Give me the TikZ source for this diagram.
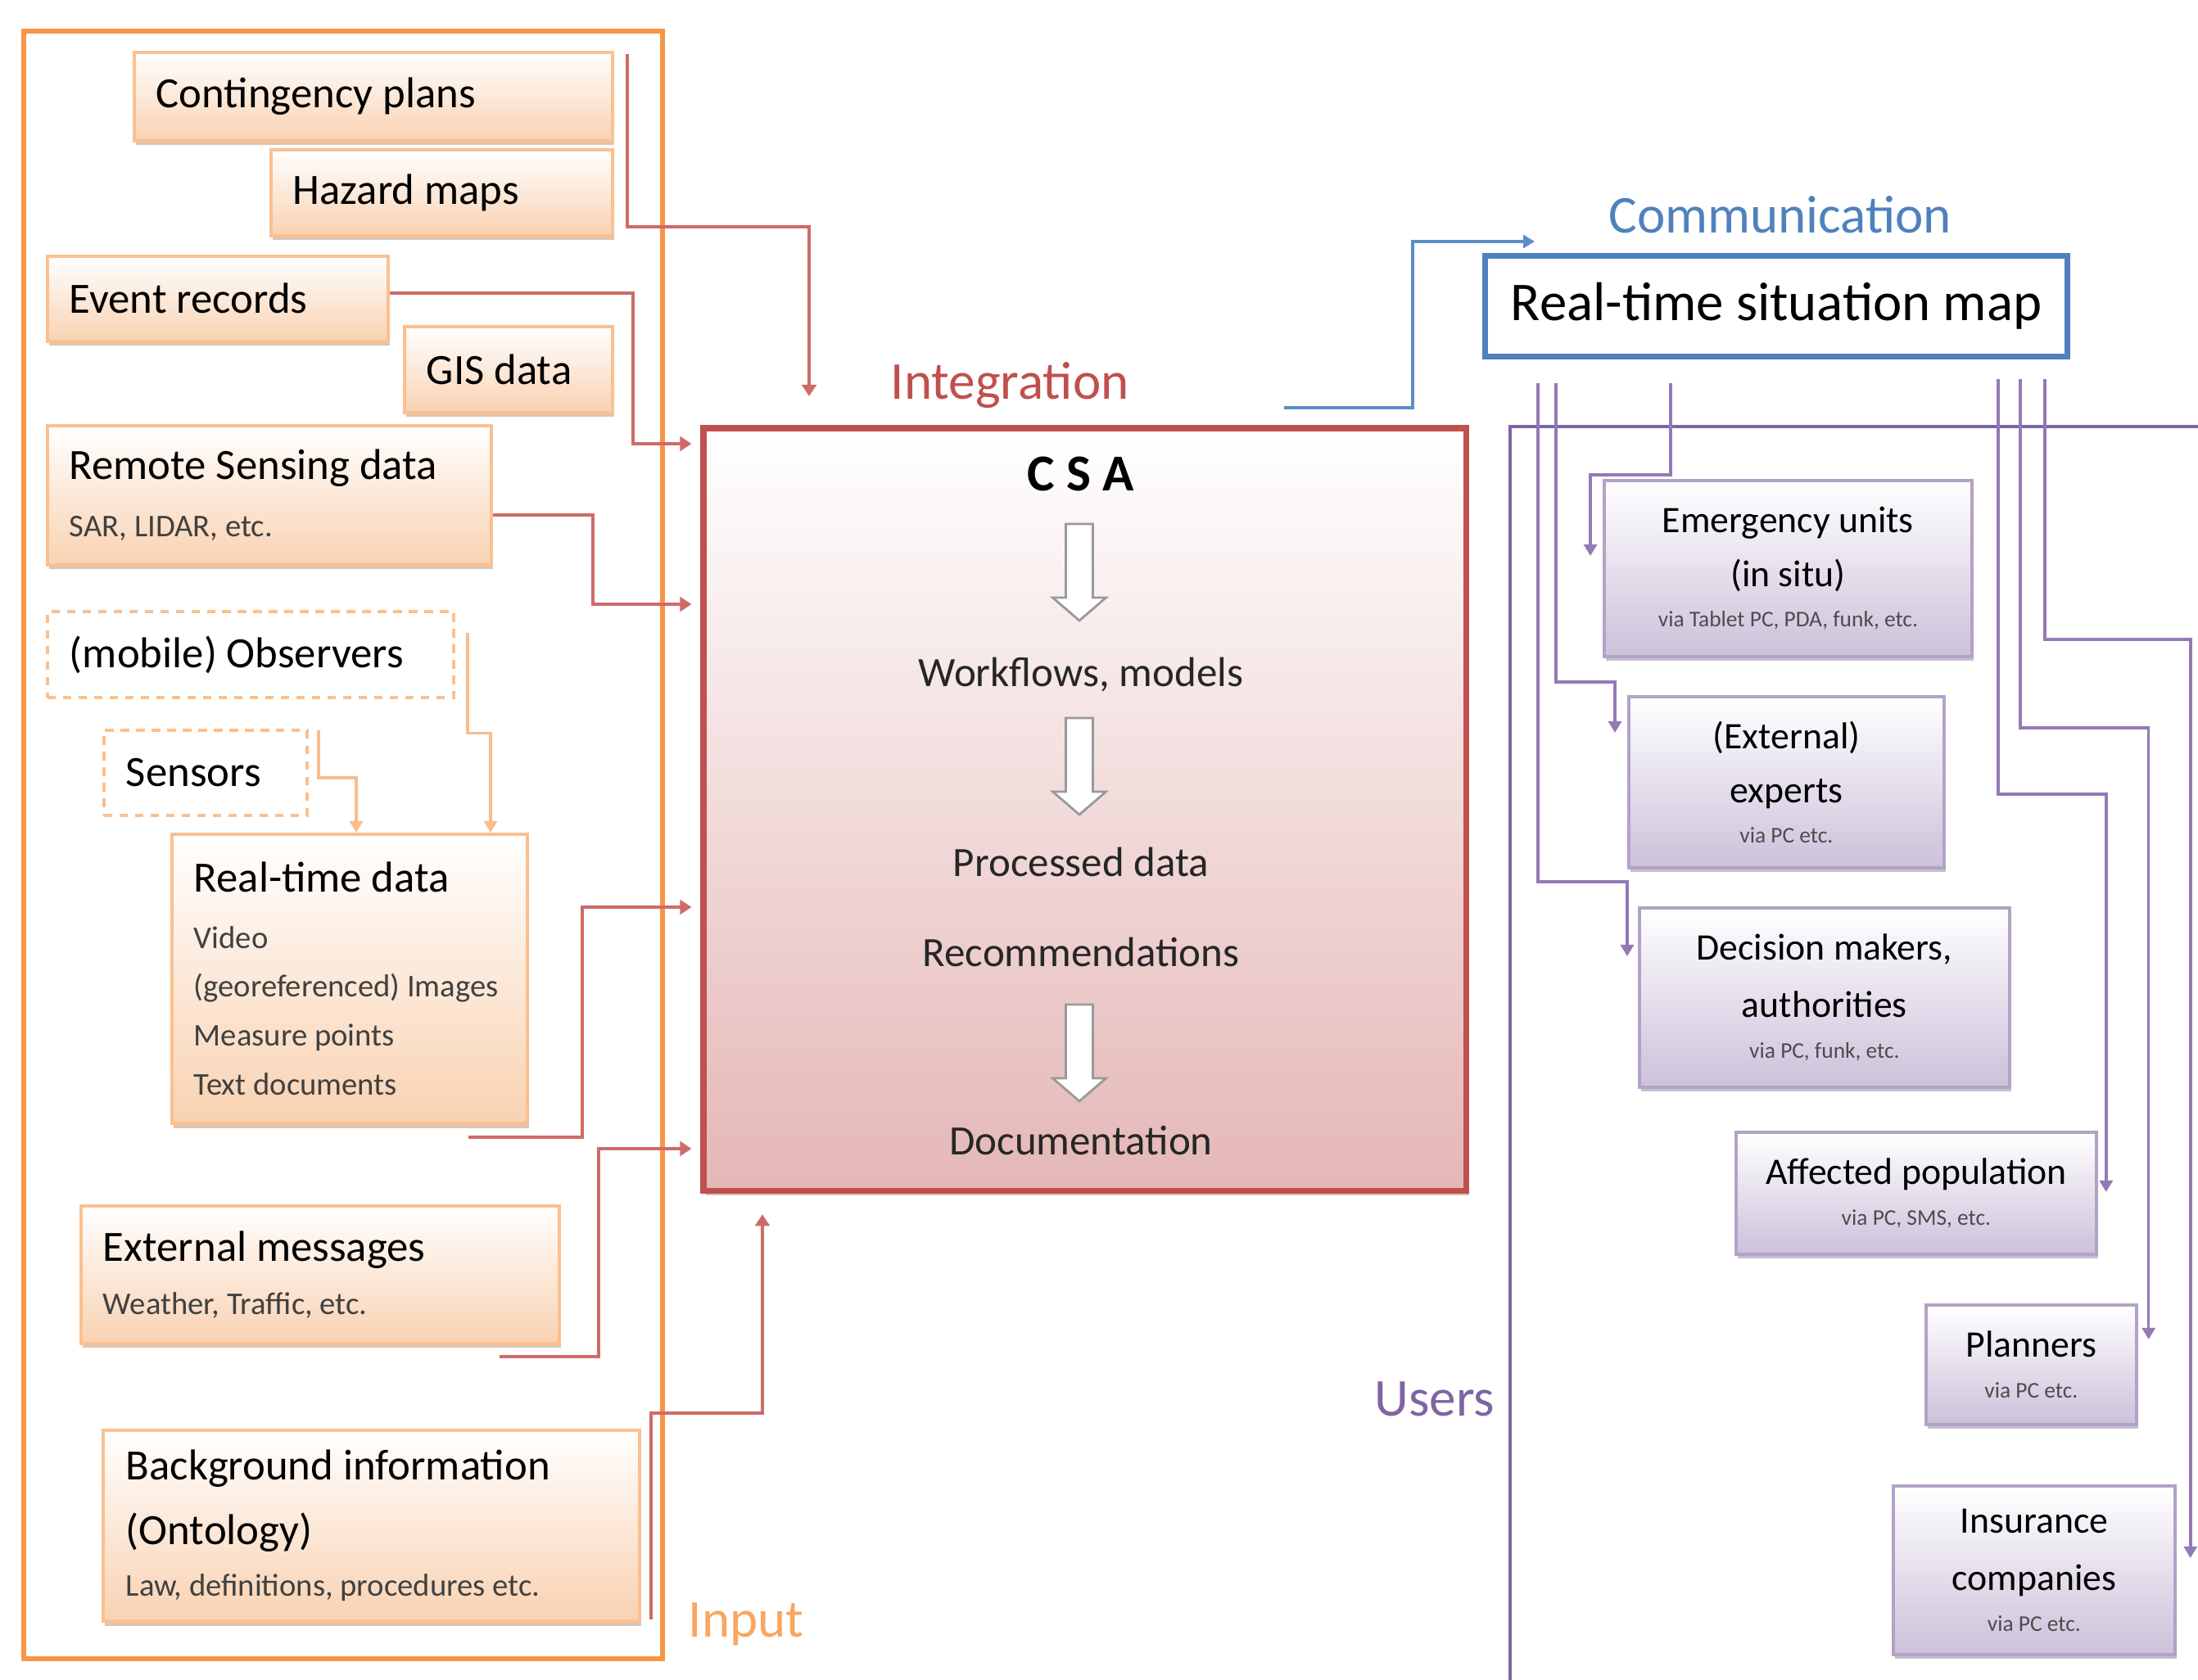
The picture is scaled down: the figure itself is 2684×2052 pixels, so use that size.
\documentclass[tikz,border=0pt]{standalone}
\usepackage{fontspec}
\setmainfont{Carlito}
\usetikzlibrary{arrows.meta, positioning, calc, shadows}
\definecolor{inorange}{HTML}{F79646}
\definecolor{inedge}{HTML}{FAC090}
\definecolor{inpeach}{HTML}{F9D2B2}
\definecolor{inline}{HTML}{F9BC8D}
\definecolor{csared}{HTML}{C0504D}
\definecolor{csapink}{HTML}{E4B7B6}
\definecolor{redline}{HTML}{CE6B69}
\definecolor{commblue}{HTML}{4F81BD}
\definecolor{blueline}{HTML}{5D8DC9}
\definecolor{userpurple}{HTML}{8064A2}
\definecolor{useredge}{HTML}{B3A2C7}
\definecolor{userlilac}{HTML}{CCC1DA}
\definecolor{purpleline}{HTML}{937AB5}
\newcommand{\subfont}{\fontsize{11}{17}\selectfont\color{black!75}}
\newcommand{\viafont}{\fontsize{7.8}{14}\selectfont\color{black!70}}

\begin{document}
\begin{tikzpicture}[
  x=0.01cm, y=-0.01cm,
  inbox/.style={rectangle, draw=inedge, line width=1pt,
                top color=white, bottom color=inpeach,
                anchor=north west, inner xsep=0.27cm, align=flush left,
                font=\fontsize{15}{18}\selectfont,
                drop shadow={shadow xshift=0.5pt, shadow yshift=-1.6pt,
                             opacity=0.35, fill=inorange!60!black}},
  dashbox/.style={rectangle, draw=inedge, line width=1.1pt,
                  dash pattern=on 3pt off 2.4pt, fill=white,
                  anchor=north west, inner xsep=0.27cm, align=flush left,
                  font=\fontsize{15}{18}\selectfont},
  csabox/.style={rectangle, draw=csared, line width=2.2pt,
                 top color=white, bottom color=csapink, anchor=north west,
                 drop shadow={shadow xshift=1pt, shadow yshift=-1.5pt,
                              opacity=0.3, fill=csared!60!black}},
  csaitem/.style={anchor=base, font=\fontsize{14.5}{16}\selectfont,
                  text=black!85},
  mapbox/.style={rectangle, draw=commblue, line width=2pt, fill=white,
                 anchor=north west, font=\fontsize{19}{21}\selectfont},
  userbox/.style={rectangle, draw=useredge, line width=1pt,
                  top color=white, bottom color=userlilac,
                  anchor=north west, inner xsep=0.1cm, align=flush center,
                  font=\fontsize{13}{14}\selectfont,
                  drop shadow={shadow xshift=0.5pt, shadow yshift=-1.5pt,
                               opacity=0.35, fill=userpurple!70!black}},
  lbl/.style={font=\fontsize{18.5}{22}\selectfont, anchor=base west,
              inner sep=0pt},
  redarr/.style={-{Triangle[length=4pt, width=5pt]}, redline,
                 line width=1.1pt},
  orarr/.style={-{Triangle[length=4pt, width=4.5pt]}, inline,
                line width=1pt},
  bluearr/.style={-{Triangle[length=4pt, width=4.5pt]}, blueline,
                  line width=1.1pt},
  purarr/.style={-{Triangle[length=4pt, width=4.5pt]}, purpleline,
                 line width=1pt},
  fatarrow/.pic={
    \draw[draw=black!40, fill=white, line width=0.8pt]
      (-16.5,0) -- (16.5,0) -- (16.5,90) -- (32.5,90) -- (0,118)
      -- (-32.5,90) -- (-16.5,90) -- cycle;}
]
\useasboundingbox (0,0) rectangle (2684,2052);

% === Input frame ===
\draw[inorange, line width=1.8pt] (29,38) rectangle (809,2026);
\node[lbl, text=inorange!85!white] (inlbl) at (840,1999) {Input};

% === Input boxes (left column) ===
\node[inbox, minimum width=5.84cm, minimum height=1.08cm, text width=5.30cm]
  (cont) at (162,62) {Contingency plans};
\node[inbox, minimum width=4.17cm, minimum height=1.05cm, text width=3.63cm]
  (haz) at (329,181) {Hazard maps};
\node[inbox, minimum width=4.16cm, minimum height=1.04cm, text width=3.62cm]
  (evt) at (56,311) {Event records};
\node[inbox, minimum width=2.54cm, minimum height=1.05cm, text width=2.00cm]
  (gis) at (492,397) {GIS data};
\node[inbox, minimum width=5.42cm, minimum height=1.70cm, text width=4.88cm,
      font=\fontsize{15}{20}\selectfont]
  (rs) at (56,518) {Remote Sensing data\\{\subfont SAR, LIDAR, etc.}};

\node[dashbox, minimum width=4.96cm, minimum height=1.05cm, text width=4.42cm]
  (obs) at (56,745) {(mobile) Observers};
\node[dashbox, minimum width=2.48cm, minimum height=1.04cm, text width=1.94cm]
  (sens) at (125,890) {Sensors};

\node[inbox, minimum width=4.34cm, minimum height=3.53cm, text width=3.80cm,
      font=\fontsize{15}{17}\selectfont]
  (rt) at (208,1017) {Real-time data\\[2.5pt]
    {\subfont Video}\\
    {\subfont (georeferenced) Images}\\
    {\subfont Measure points}\\
    {\subfont Text documents}};

\node[inbox, minimum width=5.84cm, minimum height=1.68cm, text width=5.30cm,
      font=\fontsize{15}{18.5}\selectfont]
  (ext) at (97,1471) {External messages\\{\subfont Weather, Traffic, etc.}};
\node[inbox, minimum width=6.55cm, minimum height=2.33cm, text width=5.99cm,
      inner xsep=0.28cm, font=\fontsize{15}{18}\selectfont]
  (bg) at (124,1745) {Background information\\[4.5pt](Ontology)\\
    {\subfont Law, definitions, procedures etc.}};

% small input feeds into real-time data
\draw[orarr] ($(sens.north east)+(12,2)$) -- ++(0,58)
  -| ($(rt.north west)+(227,0)$);
\draw[orarr] ($(obs.east)+(15,-26)$) -- ++(0,122)
  -| ($(rt.north west)+(391,0)$);

% === Integration: CSA box ===
\node[csabox, minimum width=9.31cm, minimum height=9.31cm] (csa) at (855,519) {};
\node[lbl, text=csared] (integ) at (1087,488) {Integration};
\coordinate (intin) at (988,484);

\node[anchor=base, font=\bfseries\fontsize{18}{20}\selectfont]
  (csat) at (1320,600) {C S A};
\node[csaitem] (wf)  at (1320,838)  {Workflows, models};
\node[csaitem] (pd)  at (1320,1070) {Processed data};
\node[csaitem] (rec) at (1320,1180) {Recommendations};
\node[csaitem] (doc) at (1320,1410) {Documentation};
\pic at (1318,640)  {fatarrow};
\pic at (1318,877)  {fatarrow};
\pic at (1318,1227) {fatarrow};

% input arrows into CSA
\draw[redarr] ($(cont.north east)+(16,4)$) -- ++(0,211) -| (intin);
\draw[redarr, shorten >=3pt] ($(evt.east)+(0,-7)$) -- ++(297,0)
  |- ($(csa.north west)+(0,23)$);
\draw[redarr, shorten >=3pt] ($(rs.east)+(0,24)$) -- ++(122,0)
  |- ($(csa.north west)+(0,219)$);
\draw[redarr, shorten >=3pt] ($(rt.south east)+(-74,15)$) -- ++(139,0)
  |- ($(csa.north west)+(0,589)$);
\draw[redarr, shorten >=3pt] ($(ext.south east)+(-75,14)$) -- ++(121,0)
  |- ($(csa.north west)+(0,884)$);
\draw[redarr] ($(bg.south east)+(12,-4)$) -- ++(0,-252)
  -| ($(csa.south west)+(76,25)$);

% === Communication ===
\node[mapbox, minimum width=7.11cm, minimum height=1.23cm]
  (map) at (1810,309) {Real-time situation map};
\node[lbl, text=commblue] (comm) at (1964,285) {Communication};
\draw[bluearr] ($(csa.north east)+(-226,-21)$) -- ++(157,0)
  |- ($(map.north west)+(64,-14)$);

% === Users ===
\draw[userpurple, line width=1.4pt] (2700,521) -- (1844,521) -- (1844,2070);
\node[lbl, text=userpurple] (ulbl) at (1678,1729) {Users};

\node[userbox, minimum width=4.49cm, minimum height=2.15cm, text width=4.29cm]
  (em) at (1957,585) {Emergency units\\[4.8pt](in situ)\\
    {\viafont via Tablet PC, PDA, funk, etc.}};
\node[userbox, minimum width=3.85cm, minimum height=2.09cm, text width=3.65cm]
  (ee) at (1987,849) {(External)\\[4.8pt]experts\\{\viafont via PC etc.}};
\node[userbox, minimum width=4.52cm, minimum height=2.19cm, text width=4.32cm]
  (dm) at (2000,1107) {Decision makers,\\[6pt]authorities\\
    {\viafont via PC, funk, etc.}};
\node[userbox, minimum width=4.40cm, minimum height=1.49cm, text width=4.20cm]
  (ap) at (2118,1381) {Affected population\\{\viafont via PC, SMS, etc.}};
\node[userbox, minimum width=2.57cm, minimum height=1.46cm, text width=2.37cm]
  (pl) at (2350,1592) {Planners\\{\viafont via PC etc.}};
\node[userbox, minimum width=3.44cm, minimum height=2.06cm, text width=3.24cm]
  (ins) at (2310,1813) {Insurance\\[6pt]companies\\{\viafont via PC etc.}};

% map feeds to every user group
\draw[purarr] ($(map.south west)+(68,29)$) -- ++(0,609)
  -| ($(dm.north west)+(-13,61)$);
\draw[purarr] ($(map.south west)+(90,29)$) -- ++(0,365)
  -| ($(ee.north west)+(-15,46)$);
\draw[purarr] ($(map.south west)+(230,29)$) -- ++(0,112)
  -| ($(em.north west)+(-15,94)$);
\draw[purarr] ($(map.south west)+(630,24)$) -- ++(0,507)
  -| ($(ap.north east)+(10,75)$);
\draw[purarr] ($(map.south west)+(657,24)$) -- ++(0,426)
  -| ($(pl.north east)+(13,44)$);
\draw[purarr] ($(map.south west)+(687,24)$) -- ++(0,318)
  -| ($(ins.north east)+(17,90)$);

\end{tikzpicture}
\end{document}
